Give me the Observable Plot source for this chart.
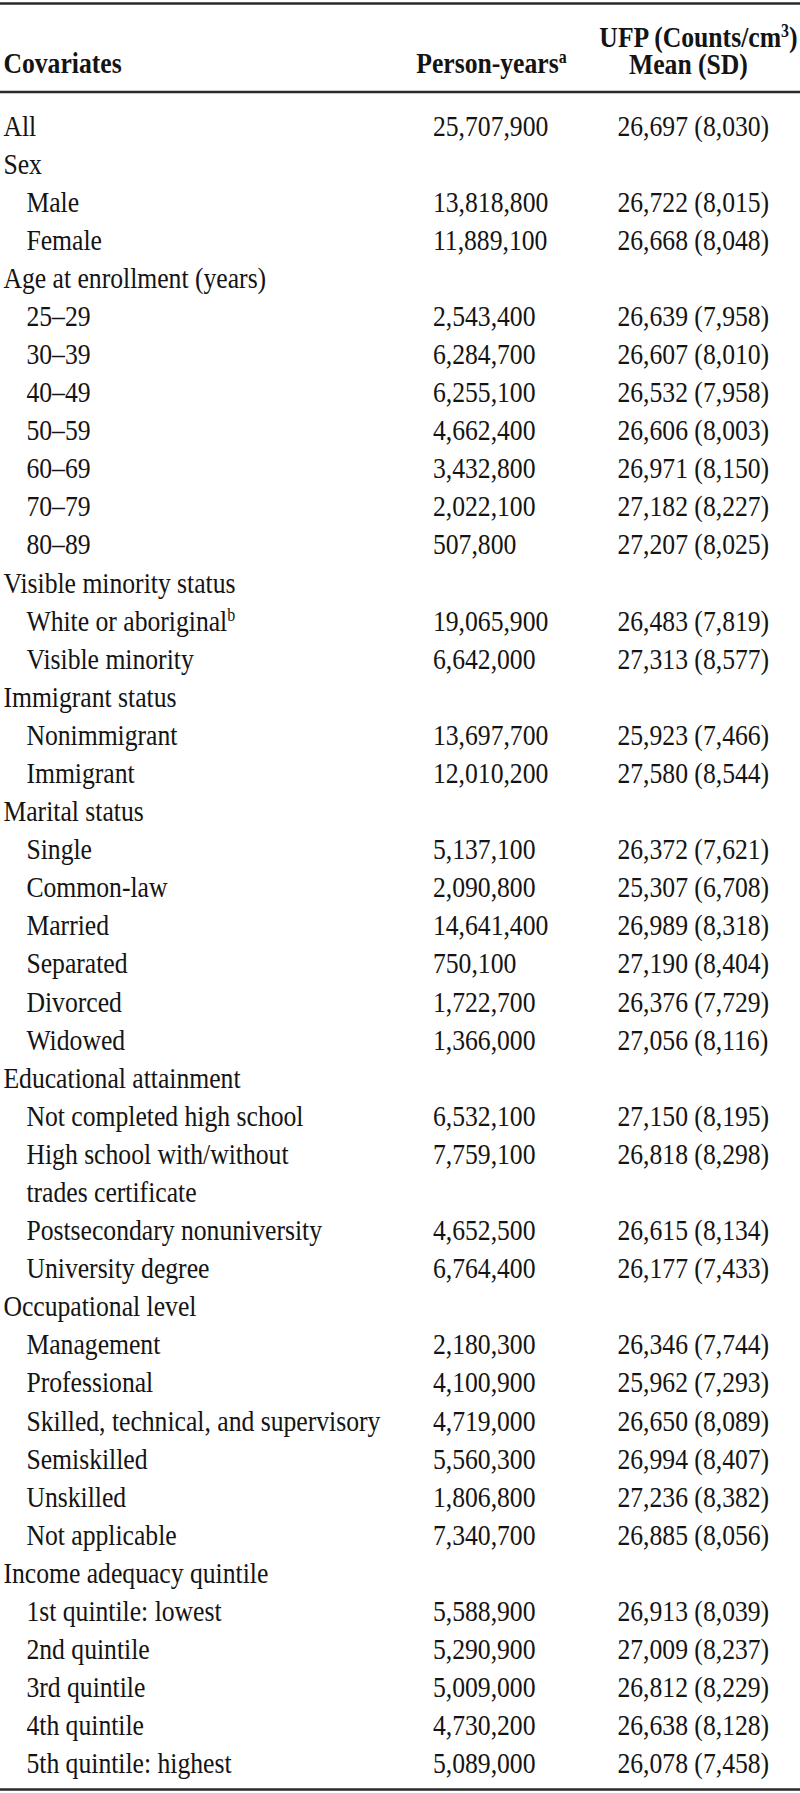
<!DOCTYPE html>
<html>
<head>
<meta charset="utf-8">
<script src="https://cdn.jsdelivr.net/npm/d3@7"></script>
<script src="https://cdn.jsdelivr.net/npm/@observablehq/plot@0.6"></script>
<style>
  html, body { margin: 0; padding: 0; background: #fff; }
  #chart svg { display: block; }
</style>
</head>
<body>
<div id="chart"></div>
<script>
// ---- Data ----
const covariates = ["All","Sex","Male","Female","Age at enrollment (years)","25–29","30–39","40–49","50–59","60–69","70–79","80–89","Visible minority status","White or aboriginal^b","Visible minority","Immigrant status","Nonimmigrant","Immigrant","Marital status","Single","Common-law","Married","Separated","Divorced","Widowed","Educational attainment","Not completed high school","High school with/without","trades certificate","Postsecondary nonuniversity","University degree","Occupational level","Management","Professional","Skilled, technical, and supervisory","Semiskilled","Unskilled","Not applicable","Income adequacy quintile","1st quintile: lowest","2nd quintile","3rd quintile","4th quintile","5th quintile: highest"];
const indentLevel = [0,0,1,1,0, 1,1,1,1,1,1,1, 0,1,1, 0,1,1, 0,1,1,1,1,1,1, 0,1,1,1,1,1, 0,1,1,1,1,1,1, 0,1,1,1,1,1];
const personYears = [25707900,null,13818800,11889100,null,2543400,6284700,6255100,4662400,3432800,2022100,507800,null,19065900,6642000,null,13697700,12010200,null,5137100,2090800,14641400,750100,1722700,1366000,null,6532100,7759100,null,4652500,6764400,null,2180300,4100900,4719000,5560300,1806800,7340700,null,5588900,5290900,5009000,4730200,5089000];
const ufpMean = [26697,null,26722,26668,null,26639,26607,26532,26606,26971,27182,27207,null,26483,27313,null,25923,27580,null,26372,25307,26989,27190,26376,27056,null,27150,26818,null,26615,26177,null,26346,25962,26650,26994,27236,26885,null,26913,27009,26812,26638,26078];
const ufpSD = [8030,null,8015,8048,null,7958,8010,7958,8003,8150,8227,8025,null,7819,8577,null,7466,8544,null,7621,6708,8318,8404,7729,8116,null,8195,8298,null,8134,7433,null,7744,7293,8089,8407,8382,8056,null,8039,8237,8229,8128,7458];
const headers = ["Covariates", "Person-years^a", "UFP (Counts/cm^3)", "Mean (SD)"];

// ---- Layout ----
const OUT_W = 800, H = 1793;
const SQ = 0.87;                 // horizontal glyph compression of the original
const VW = OUT_W / SQ;           // virtual width
const vx = px => px / SQ;        // output px -> virtual units
const FS = 29.5;
const FONT = "'Liberation Serif', 'Times New Roman', Times, serif";
const INK = "#141414";
const rowY = i => 135 + i * 38.09;

const rows = covariates.map((c, i) => ({
  i, label: c, indent: indentLevel[i], py: personYears[i], mean: ufpMean[i], sd: ufpSD[i]
}));
const fmt = d3.format(",");

const headerStart = [
  {text: headers[0], x: vx(3), y: 72}
];
const headerMiddle = [
  {text: headers[1], x: vx(491), y: 72},
  {text: headers[2], x: vx(698), y: 46},
  {text: headers[3], x: vx(688), y: 73}
];
const ruleRows = [{y: 3}, {y: 91.5}, {y: 1789}];

const common = {fontSize: FS, fontFamily: FONT, fill: INK, lineAnchor: "bottom"};

const svg = Plot.plot({
  width: VW,
  height: H,
  margin: 0,
  x: {domain: [0, VW], range: [0, VW], axis: null},
  y: {domain: [0, H], range: [0, H], axis: null},
  style: {background: "#fff"},
  marks: [
    Plot.ruleY(ruleRows, {y: "y", x1: 0, x2: VW, stroke: "#2a2a2a", strokeWidth: 2.6}),
    Plot.text(headerStart, {...common, x: "x", y: "y", text: "text", textAnchor: "start", fontWeight: "bold"}),
    Plot.text(headerMiddle, {...common, x: "x", y: "y", text: "text", textAnchor: "middle", fontWeight: "bold"}),
    Plot.text(rows, {...common, x: d => d.indent ? vx(26) : vx(3), y: d => rowY(d.i), text: "label", textAnchor: "start"}),
    Plot.text(rows.filter(d => d.py != null), {...common, x: () => vx(432.5), y: d => rowY(d.i), text: d => fmt(d.py), textAnchor: "start"}),
    Plot.text(rows.filter(d => d.mean != null), {...common, x: () => vx(617), y: d => rowY(d.i), text: d => `${fmt(d.mean)} (${fmt(d.sd)})`, textAnchor: "start"})
  ]
});

// Output is horizontally compressed like the original typesetting
svg.setAttribute("width", OUT_W);
svg.setAttribute("preserveAspectRatio", "none");
svg.style.maxWidth = "none";

// Superscripts: "^x" -> raised small tspan
const NS = "http://www.w3.org/2000/svg";
svg.querySelectorAll("text").forEach(t => {
  const target = t.querySelector("tspan") || t;
  const s = target.textContent;
  const m = s.match(/^(.*)\^(\w)(.*)$/);
  if (!m) return;
  target.textContent = m[1];
  const sup = document.createElementNS(NS, "tspan");
  sup.setAttribute("baseline-shift", "super");
  sup.setAttribute("font-size", "62%");
  sup.textContent = m[2];
  target.appendChild(sup);
  if (m[3]) {
    const rest = document.createElementNS(NS, "tspan");
    rest.textContent = m[3];
    target.appendChild(rest);
  }
});

document.getElementById("chart").appendChild(svg);
</script>
</body>
</html>
